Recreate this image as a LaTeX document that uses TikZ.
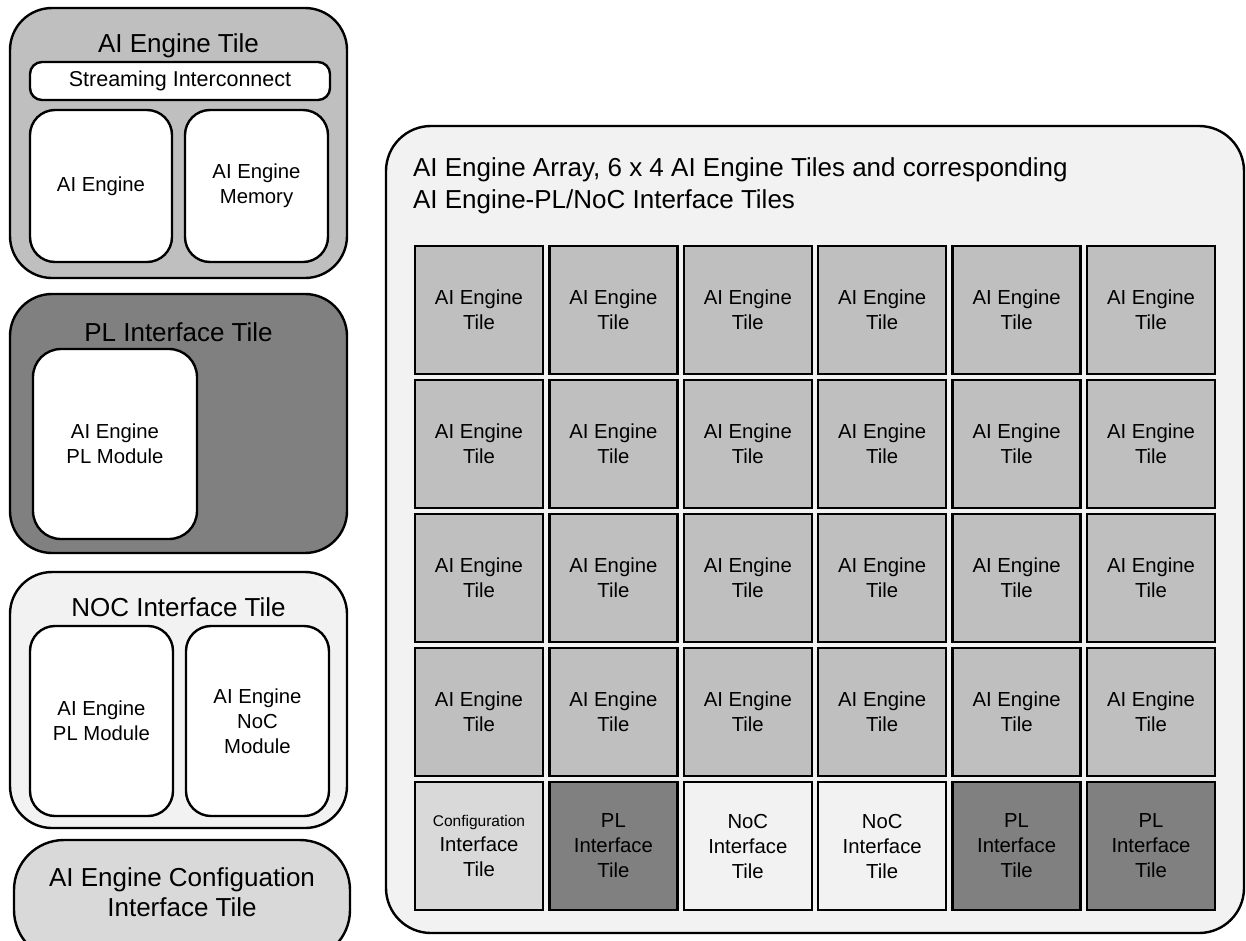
\documentclass[tikz,border=0pt]{standalone}
\usepackage{fontspec}
\setmainfont{Liberation Sans}
\begin{document}
\begin{tikzpicture}[x=1pt,y=-1pt,
  every node/.style={inner sep=0pt,outer sep=0pt},
  frame/.style={draw=black,line width=2.4pt,align=center},
  blk/.style={frame,rounded corners=#1},
  blk/.default=25pt,
  ttl/.style={font=\fontsize{26}{30}\selectfont,align=center},
  txt/.style={font=\fontsize{20.3}{25}\selectfont},
  gtile/.style={frame,minimum width=128pt,minimum height=128pt,
    font=\fontsize{20.3}{25}\selectfont},
  aetile/.style={gtile,fill=tilegray},
  pltile/.style={gtile,fill=pldark},
  noctile/.style={gtile,fill=noclight},
  cfgtile/.style={gtile,fill=cfggray}
]
\definecolor{tilegray}{HTML}{BFBFBF}
\definecolor{pldark}{HTML}{808080}
\definecolor{noclight}{HTML}{F2F2F2}
\definecolor{cfggray}{HTML}{D9D9D9}

\useasboundingbox (0,0) rectangle (1246,940);
\clip (0,0) rectangle (1246,940);

% ---- legend: AI Engine tile ----
\node[blk=42pt,fill=tilegray,minimum width=337pt,minimum height=270pt] (aet) at (178.5,143) {};
\node[ttl] (aett) at (178.5,46) {AI Engine Tile};
\node[blk=12pt,fill=white,minimum width=300pt,minimum height=38pt,
  font=\fontsize{21.5}{25}\selectfont] (si) at (180,81) {Streaming Interconnect};
\node[blk,fill=white,minimum width=142pt,minimum height=152pt,txt] (ae) at (101,186) {AI Engine};
\node[blk,fill=white,minimum width=143pt,minimum height=152pt,txt] (aem) at (256.5,186) {AI Engine\\Memory};

% ---- legend: PL interface tile ----
\node[blk=42pt,fill=pldark,minimum width=337pt,minimum height=259pt] (plt) at (178.5,423.5) {};
\node[ttl] (pltt) at (178.5,332) {PL Interface Tile};
\node[blk=28pt,fill=white,minimum width=164pt,minimum height=190pt,txt] (plm) at (115,444) {AI Engine\\PL Module};

% ---- legend: NoC interface tile ----
\node[blk=42pt,fill=noclight,minimum width=337pt,minimum height=256pt] (noct) at (178.5,700) {};
\node[ttl] (noctt) at (178.5,607) {NOC Interface Tile};
\node[blk,fill=white,minimum width=143pt,minimum height=190pt,txt] (nplm) at (101.5,721) {AI Engine\\PL Module};
\node[blk,fill=white,minimum width=143pt,minimum height=190pt,txt] (nnm) at (257.5,721) {AI Engine\\NoC\\Module};

% ---- legend: configuration interface tile ----
\node[blk=50pt,fill=cfggray,minimum width=336pt,minimum height=120pt] (cfg) at (182,900) {};
\node[ttl] (cfgt) at (182,892) {AI Engine Configuation\\Interface Tile};

% ---- AI Engine array ----
\node[blk=45pt,fill=noclight,minimum width=858pt,minimum height=807pt] (arr) at (815,529.5) {};
\node[anchor=west,align=left,font=\fontsize{26}{32}\selectfont] (arrt) at (413,186)
  {AI Engine Array, 6 x 4 AI Engine Tiles and corresponding\\AI Engine-PL/NoC Interface Tiles};

\foreach \c in {0,...,5}
  \foreach \r in {0,...,3}
    \node[aetile] (t-\r-\c) at ({479+134.4*\c},{310+134*\r}) {AI Engine\\Tile};

\node[cfgtile] (i-0) at (479,846) {{\fontsize{15.5}{22}\selectfont Configuration}\\Interface\\Tile};
\node[pltile]  (i-1) at ({479+134.4*1},846) {PL\\Interface\\Tile};
\node[noctile] (i-2) at ({479+134.4*2},846) {NoC\\Interface\\Tile};
\node[noctile] (i-3) at ({479+134.4*3},846) {NoC\\Interface\\Tile};
\node[pltile]  (i-4) at ({479+134.4*4},846) {PL\\Interface\\Tile};
\node[pltile]  (i-5) at ({479+134.4*5},846) {PL\\Interface\\Tile};
\end{tikzpicture}
\end{document}
